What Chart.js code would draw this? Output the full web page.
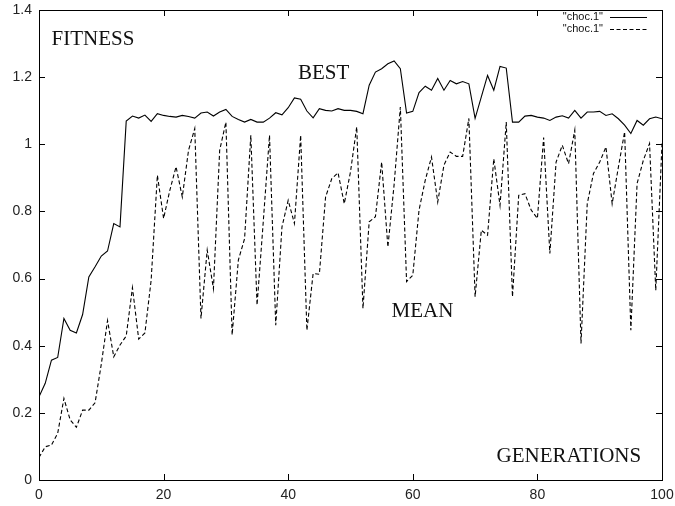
<!DOCTYPE html>
<html>
<head>
<meta charset="utf-8">
<script src="https://cdn.jsdelivr.net/npm/chart.js@4/dist/chart.umd.min.js"></script>
<style>
  html, body { margin: 0; padding: 0; background: #fff; }
  #grafico { display: block; }
</style>
</head>
<body>
<canvas id="grafico" width="675" height="506"></canvas>
<script>
// generaciones 0..100
let generaciones = Array.from({ length: 101 }, (_, i) => i);

// mejor individuo por generacion
let best = [
  0.248, 0.288, 0.357, 0.365, 0.481, 0.446, 0.438, 0.493, 0.605, 0.635,
  0.667, 0.682, 0.764, 0.754, 1.069, 1.084, 1.078, 1.087, 1.068, 1.091,
  1.086, 1.083, 1.081, 1.086, 1.083, 1.078, 1.093, 1.096, 1.084, 1.096,
  1.104, 1.083, 1.074, 1.066, 1.074, 1.066, 1.066, 1.078, 1.094, 1.088,
  1.109, 1.138, 1.134, 1.099, 1.079, 1.106, 1.101, 1.099, 1.106, 1.101,
  1.101, 1.098, 1.091, 1.176, 1.215, 1.225, 1.240, 1.248, 1.225, 1.093,
  1.098, 1.154, 1.173, 1.161, 1.196, 1.161, 1.190, 1.180, 1.187, 1.180,
  1.077, 1.141, 1.205, 1.161, 1.232, 1.227, 1.066, 1.066, 1.084, 1.086,
  1.081, 1.078, 1.071, 1.081, 1.085, 1.078, 1.101, 1.078, 1.096, 1.096,
  1.098, 1.086, 1.091, 1.076, 1.057, 1.032, 1.071, 1.057, 1.076, 1.081,
  1.076,
];

// media de la poblacion
let mean = [
  0.067, 0.099, 0.104, 0.139, 0.243, 0.179, 0.157, 0.208, 0.208, 0.230,
  0.345, 0.475, 0.367, 0.402, 0.429, 0.573, 0.420, 0.438, 0.595, 0.908,
  0.779, 0.863, 0.933, 0.843, 0.982, 1.047, 0.481, 0.685, 0.570, 0.982,
  1.066, 0.432, 0.655, 0.719, 1.027, 0.521, 0.770, 1.027, 0.461, 0.754,
  0.833, 0.764, 1.027, 0.446, 0.615, 0.613, 0.843, 0.898, 0.915, 0.823,
  0.918, 1.052, 0.511, 0.769, 0.784, 0.947, 0.694, 0.880, 1.111, 0.591,
  0.610, 0.804, 0.893, 0.962, 0.828, 0.938, 0.977, 0.964, 0.964, 1.077,
  0.546, 0.744, 0.729, 0.957, 0.818, 1.066, 0.546, 0.848, 0.853, 0.804,
  0.779, 1.020, 0.675, 0.947, 0.997, 0.942, 1.042, 0.407, 0.823, 0.913,
  0.947, 0.992, 0.823, 0.932, 1.037, 0.446, 0.883, 0.952, 1.002, 0.565,
  1.002,
];

let xTicks = [0, 20, 40, 60, 80, 100];
let yTicks = [0, 0.2, 0.4, 0.6, 0.8, 1, 1.2, 1.4];
let leyenda = ['"choc.1"', '"choc.1"'];

let rotulos = [
  { texto: "FITNESS", x: 51.5, y: 45 },
  { texto: "BEST", x: 298, y: 79 },
  { texto: "MEAN", x: 391.5, y: 317 },
  { texto: "GENERATIONS", x: 496.5, y: 461.5 },
];

function puntos(valores) {
  return valores.map((v, i) => ({ x: generaciones[i], y: v }));
}

// marco, ticks hacia adentro, rotulos y leyenda al estilo gnuplot
const marcoGnuplot = {
  id: "marcoGnuplot",
  afterDraw(chart) {
    let ctx = chart.ctx;
    let area = chart.chartArea;
    let sx = chart.scales.x;
    let sy = chart.scales.y;
    let largo = 6;
    ctx.save();
    ctx.strokeStyle = "#000";
    ctx.lineWidth = 1;
    ctx.strokeRect(area.left + 0.5, area.top + 0.5, area.right - area.left, area.bottom - area.top);
    ctx.beginPath();
    xTicks.forEach(function (t) {
      let px = Math.round(sx.getPixelForValue(t)) + 0.5;
      ctx.moveTo(px, area.bottom);
      ctx.lineTo(px, area.bottom - largo);
      ctx.moveTo(px, area.top);
      ctx.lineTo(px, area.top + largo);
    });
    yTicks.forEach(function (t) {
      let py = Math.round(sy.getPixelForValue(t)) + 0.5;
      ctx.moveTo(area.left, py);
      ctx.lineTo(area.left + largo, py);
      ctx.moveTo(area.right, py);
      ctx.lineTo(area.right - largo, py);
    });
    ctx.stroke();

    ctx.fillStyle = "#111";
    ctx.font = '21px "Liberation Serif"';
    ctx.textBaseline = "alphabetic";
    ctx.textAlign = "left";
    rotulos.forEach(function (r) {
      ctx.fillText(r.texto, r.x, r.y);
    });

    ctx.font = '11px "Liberation Sans"';
    ctx.textAlign = "right";
    ctx.textBaseline = "middle";
    let filas = [17, 29];
    leyenda.forEach(function (txt, i) {
      ctx.fillText(txt, 603, filas[i]);
      ctx.beginPath();
      ctx.setLineDash(i === 0 ? [] : [4, 2.5]);
      ctx.moveTo(610, filas[i] + 0.5);
      ctx.lineTo(647, filas[i] + 0.5);
      ctx.stroke();
    });
    ctx.restore();
  },
};

function etiqueta(v) {
  return String(Number(v.toFixed(1)));
}

let ctx = document.getElementById("grafico").getContext("2d");
new Chart(ctx, {
  type: "line",
  data: {
    datasets: [
      {
        label: leyenda[0],
        data: puntos(best),
        borderColor: "#000",
        borderWidth: 1.1,
        pointRadius: 0,
        tension: 0,
      },
      {
        label: leyenda[1],
        data: puntos(mean),
        borderColor: "#000",
        borderWidth: 1.1,
        borderDash: [4, 2.5],
        pointRadius: 0,
        tension: 0,
      },
    ],
  },
  options: {
    responsive: false,
    animation: false,
    events: [],
    layout: { padding: { top: 10, right: 13, left: 0, bottom: 0 } },
    plugins: {
      legend: { display: false },
      tooltip: { enabled: false },
    },
    scales: {
      x: {
        type: "linear",
        min: 0,
        max: 100,
        afterFit: function (scale) {
          scale.height = 26;
          scale.paddingLeft = 0;
          scale.paddingRight = 0;
        },
        afterBuildTicks: function (scale) {
          scale.ticks = xTicks.map((v) => ({ value: v }));
        },
        grid: { display: false, drawTicks: false },
        border: { display: false },
        ticks: {
          padding: 7,
          color: "#222",
          maxRotation: 0,
          callback: etiqueta,
          font: { family: "Liberation Sans", size: 14 },
        },
      },
      y: {
        min: 0,
        max: 1.4,
        afterFit: function (scale) {
          scale.width = 39;
          scale.paddingTop = 0;
          scale.paddingBottom = 0;
        },
        afterBuildTicks: function (scale) {
          scale.ticks = yTicks.map((v) => ({ value: v }));
        },
        grid: { display: false, drawTicks: false },
        border: { display: false },
        ticks: {
          padding: 7,
          color: "#222",
          callback: etiqueta,
          font: { family: "Liberation Sans", size: 14 },
        },
      },
    },
  },
  plugins: [marcoGnuplot],
});
</script>
</body>
</html>
